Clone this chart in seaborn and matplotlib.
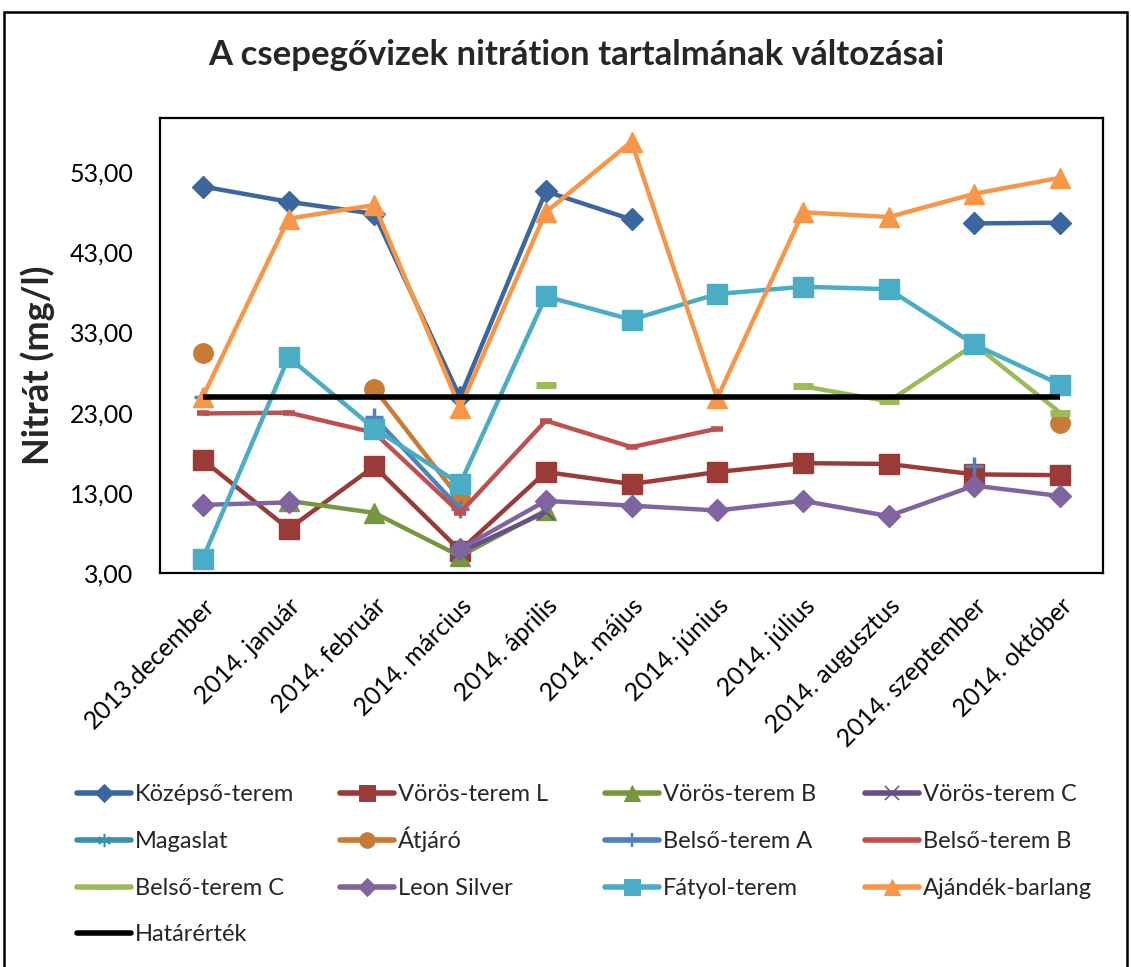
import numpy as np
import pandas as pd
import matplotlib
matplotlib.use("Agg")
import matplotlib.pyplot as plt
import seaborn as sns
from matplotlib.lines import Line2D
from matplotlib.patches import Rectangle

nan = np.nan

months = ["2013.december", "2014. január", "2014. február", "2014. március",
          "2014. április", "2014. május", "2014. június", "2014. július",
          "2014. augusztus", "2014. szeptember", "2014. október"]

kozepso = [51.2, 49.3, 47.8, 24.9, 50.6, 47.1, nan, nan, nan, 46.6, 46.7]
voros_l = [17.1, 8.5, 16.3, 5.8, 15.6, 14.1, 15.6, 16.7, 16.6, 15.3, 15.2]
voros_b = [nan, 12.0, 10.5, 5.1, 10.8, nan, nan, nan, nan, nan, nan]
voros_c = [nan, nan, nan, 5.6, 10.6, nan, nan, nan, nan, nan, nan]
magaslat = [nan, nan, nan, 11.5, nan, nan, nan, nan, nan, nan, nan]
atjaro = [30.5, nan, 26.0, 12.2, nan, nan, nan, nan, nan, nan, 21.7]
belso_a = [25.0, nan, 22.4, 11.0, nan, nan, nan, nan, nan, 16.4, nan]
belso_b = [22.9, 23.0, 20.5, 10.5, 22.0, 18.7, 21.0, nan, nan, nan, nan]
belso_c = [nan, nan, nan, nan, 26.5, nan, nan, 26.3, 24.4, 31.5, 23.0]
leon = [11.5, 11.8, nan, 6.0, 12.0, 11.4, 10.8, 12.0, 10.1, 13.9, 12.6]
fatyol = [4.8, 29.9, 21.0, 14.1, 37.5, 34.6, 37.8, 38.7, 38.4, 31.5, 26.5]
ajandek = [25.0, 47.2, 48.9, 23.6, 48.0, 56.8, 24.8, 48.0, 47.4, 50.3, 52.3]
hatarertek = [25.0, 25.0, 25.0, 25.0, 25.0, 25.0, 25.0, 25.0, 25.0, 25.0, 25.0]

y_ticks = [3, 13, 23, 33, 43, 53]

# name, values, colour, marker, marker size, marker edge width
series = [
    ("Középső-terem", kozepso, "#3C679E", "D", 11, 1.0),
    ("Vörös-terem L", voros_l, "#9B3B38", "s", 14, 1.0),
    ("Vörös-terem B", voros_b, "#77973F", "^", 14, 1.0),
    ("Vörös-terem C", voros_c, "#674F8A", "x", 12, 1.6),
    ("Magaslat", magaslat, "#3A91A8", (6, 2, 0), 12, 1.6),
    ("Átjáró", atjaro, "#C97B35", "o", 14, 1.0),
    ("Belső-terem A", belso_a, "#4F81BD", "+", 13, 2.5),
    ("Belső-terem B", belso_b, "#C0504D", "_", 9, 4.0),
    ("Belső-terem C", belso_c, "#9BBB59", "_", 15, 5.0),
    ("Leon Silver", leon, "#8064A2", "D", 11, 1.0),
    ("Fátyol-terem", fatyol, "#4BACC6", "s", 14, 1.0),
    ("Ajándék-barlang", ajandek, "#F79646", "^", 15, 1.0),
    ("Határérték", hatarertek, "#000000", None, 0, 0),
]

# legend grid: 4 columns, filled row by row (pixel positions of each row's bottom)
legend_cols_px = [77, 340, 605, 865]
legend_rows_px = [805, 852, 899, 945]

sns.set_theme(style="white")
plt.rcParams["font.family"] = ["Lato", "DejaVu Sans"]

W, H = 1131, 967
fig = plt.figure(figsize=(W / 100, H / 100), dpi=100)
ax = fig.add_axes([160 / W, 1 - 573 / H, 943 / W, 455 / H])


def runs(values):
    """Yield (x, y) for each contiguous stretch of measured values."""
    x_run, y_run = [], []
    for i, v in enumerate(values):
        if np.isnan(v):
            if x_run:
                yield x_run, y_run
            x_run, y_run = [], []
        else:
            x_run.append(i)
            y_run.append(v)
    if x_run:
        yield x_run, y_run


handles = []
for z, (name, vals, col, mk, ms, mew) in enumerate(series):
    lw = 4.0 if name == "Határérték" else 3.2
    for xr, yr in runs(vals):
        seg = pd.DataFrame({"x": xr, "y": yr})
        sns.lineplot(data=seg, x="x", y="y", ax=ax, color=col, lw=lw,
                     marker=mk, markersize=ms, markeredgewidth=mew,
                     markeredgecolor=col, markerfacecolor=col,
                     estimator=None, errorbar=None, zorder=3 + z,
                     legend=False, solid_capstyle="butt")
    handles.append(Line2D([], [], color=col, lw=4.0, marker=mk,
                          markersize=ms * 0.8, markeredgewidth=mew * 0.7,
                          markeredgecolor=col, markerfacecolor=col,
                          label=name))

ax.set_xlim(-0.5, len(months) - 0.5)
ax.set_ylim(3, 59.75)
ax.set_yticks(y_ticks)
ax.set_yticklabels([f"{v:.2f}".replace(".", ",") for v in y_ticks], fontsize=18)
ax.set_xticks(range(len(months)))
ax.set_xticklabels(months, rotation=45, ha="right", rotation_mode="anchor",
                   fontsize=18)
ax.tick_params(axis="y", length=0, pad=19, colors="black")
ax.tick_params(axis="x", length=0, pad=15, colors="black")
ax.set_xlabel("")
ax.set_ylabel("Nitrát (mg/l)", fontsize=26, fontweight="bold")
ax.yaxis.set_label_coords(-0.111, 0.457)
for s in ax.spines.values():
    s.set_color("black")
    s.set_linewidth(1.6)

fig.text(576 / W, 1 - 55 / H, "A csepegővizek nitrátion tartalmának változásai",
         ha="center", va="center", fontsize=25, fontweight="bold")

for i, h in enumerate(handles):
    r, c = divmod(i, 4)
    fig.legend(handles=[h], loc="lower left",
               bbox_to_anchor=(legend_cols_px[c] / W, 1 - legend_rows_px[r] / H),
               frameon=False, fontsize=17, handlelength=2.3, handletextpad=0.15,
               borderpad=0, borderaxespad=0)

fig.patches.append(Rectangle((4 / W, -0.01), 1123 / W, 1 - 12 / H + 0.01,
                             transform=fig.transFigure, fill=False,
                             edgecolor="black", lw=1.8))

fig.savefig("out.png", dpi=100)
